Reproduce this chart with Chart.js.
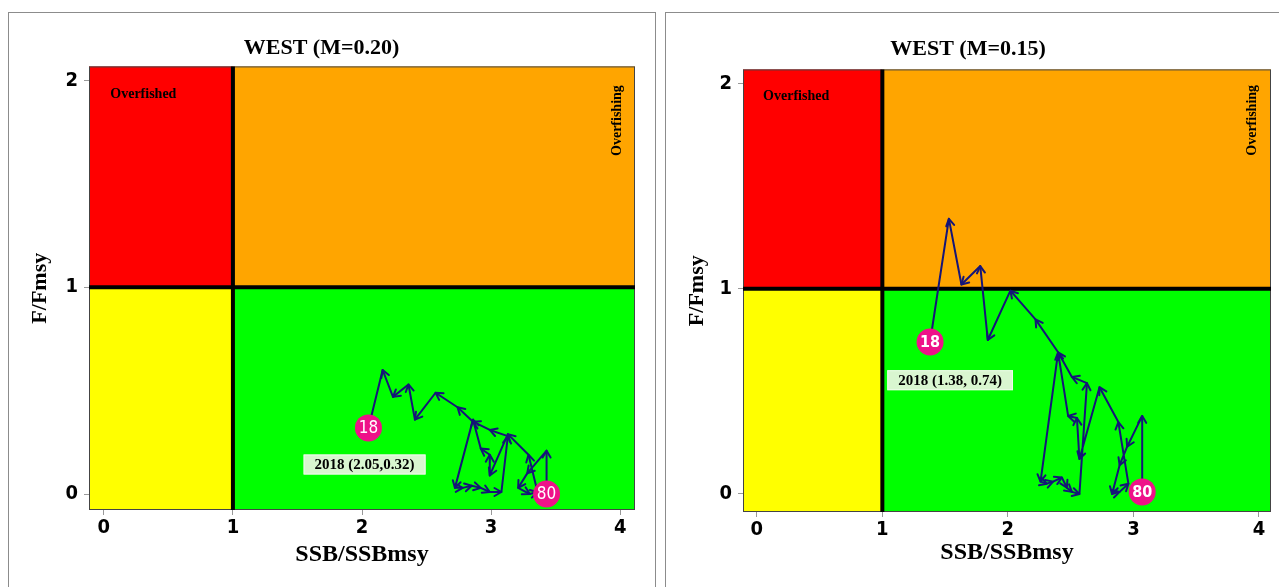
<!DOCTYPE html>
<html>
<head>
<meta charset="utf-8">
<script src="https://cdn.jsdelivr.net/npm/chart.js@4.4.0/dist/chart.umd.min.js"></script>
<style>
  body { margin: 0; background: #fff; width: 1279px; height: 587px; overflow: hidden; position: relative; }
  .frame { position: absolute; border: 1px solid #8c8c8c; }
  canvas { position: absolute; top: 0; }
</style>
</head>
<body>
<div class="frame" style="left:8px; top:12px; width:646px; height:620px;"></div>
<div class="frame" style="left:665px; top:12px; width:700px; height:620px;"></div>
<canvas id="west20" width="655" height="587" style="left:0"></canvas>
<canvas id="west15" width="640" height="587" style="left:655px"></canvas>
<script>
// ---- data ----
const xTicks = [0, 1, 2, 3, 4];
const yTicks = [0, 1, 2];
const xTickLabels = ["0", "1", "2", "3", "4"];
const yTickLabels = ["0", "1", "2"];

// WEST (M=0.20), 1980 -> 2018
const west20X = [3.43, 3.43, 3.28, 3.21, 3.30, 3.36, 3.29, 3.13, 2.99, 2.99, 2.92, 2.86, 2.72, 2.78,
                 2.85, 2.92, 2.99, 3.08, 3.13, 2.99, 2.86, 2.74, 2.57, 2.41, 2.36, 2.24, 2.16, 2.05];
const west20Y = [0.00, 0.21, 0.10, 0.03, 0.00, 0.01, 0.19, 0.29, 0.09, 0.19, 0.22, 0.36, 0.03, 0.03,
                 0.04, 0.03, 0.01, 0.01, 0.28, 0.31, 0.35, 0.42, 0.49, 0.36, 0.53, 0.47, 0.60, 0.32];

// WEST (M=0.15), 1980 -> 2018
const west15X = [3.07, 3.07, 2.95, 2.89, 2.83, 2.89, 2.96, 2.88, 2.73, 2.57, 2.55, 2.48, 2.40, 2.26, 2.31,
                 2.36, 2.43, 2.47, 2.51, 2.57, 2.63, 2.51, 2.40, 2.22, 2.02, 1.84, 1.78, 1.63, 1.53, 1.38];
const west15Y = [0.01, 0.38, 0.23, 0.14, 0.00, 0.01, 0.05, 0.35, 0.52, 0.17, 0.37, 0.38, 0.69, 0.06, 0.05,
                 0.06, 0.08, 0.03, 0.01, 0.00, 0.54, 0.57, 0.69, 0.85, 0.99, 0.75, 1.11, 1.02, 1.34, 0.74];

const startLabel = "80";
const endLabel = "18";
const west20Note = "2018 (2.05,0.32)";
const west15Note = "2018 (1.38, 0.74)";

// ---- styling ----
const SERIF = "'Liberation Serif', 'Times New Roman', serif";
const NARROW = "'Liberation Sans Narrow', 'DejaVu Sans Condensed', 'Arial Narrow', sans-serif";
const NAVY = "#151578";
const PINK = "#ee1289";
const RED = "#ff0000", ORANGE = "#ffa500", YELLOW = "#ffff00", GREEN = "#00ff00";

function kobePlugin(cfg) {
  return {
    id: "kobe",
    beforeDatasetsDraw(chart) {
      const { ctx, chartArea: a, scales: { x, y } } = chart;
      const xr = x.getPixelForValue(1), yr = y.getPixelForValue(1);
      ctx.save();
      ctx.fillStyle = RED;    ctx.fillRect(a.left, a.top, xr - a.left, yr - a.top);
      ctx.fillStyle = ORANGE; ctx.fillRect(xr, a.top, a.right - xr, yr - a.top);
      ctx.fillStyle = YELLOW; ctx.fillRect(a.left, yr, xr - a.left, a.bottom - yr);
      ctx.fillStyle = GREEN;  ctx.fillRect(xr, yr, a.right - xr, a.bottom - yr);

      ctx.strokeStyle = "#444";
      ctx.lineWidth = 1;
      ctx.strokeRect(a.left + 0.5, a.top + 0.5, a.right - a.left - 1, a.bottom - a.top - 1);

      // reference lines at 1
      ctx.strokeStyle = "#000";
      ctx.lineWidth = 4;
      ctx.beginPath();
      ctx.moveTo(xr, a.top); ctx.lineTo(xr, a.bottom);
      ctx.moveTo(a.left, yr); ctx.lineTo(a.right, yr);
      ctx.stroke();

      // quadrant texts
      ctx.fillStyle = "#000";
      ctx.font = "bold 14px " + SERIF;
      ctx.textAlign = "left";
      ctx.textBaseline = "middle";
      ctx.fillText("Overfished", x.getPixelForValue(cfg.fishedAt[0]), y.getPixelForValue(cfg.fishedAt[1]));
      ctx.save();
      ctx.translate(x.getPixelForValue(cfg.fishingAt[0]), y.getPixelForValue(cfg.fishingAt[1]));
      ctx.rotate(-Math.PI / 2);
      ctx.textAlign = "center";
      ctx.fillText("Overfishing", 0, 0);
      ctx.restore();
      ctx.restore();
    },
    afterDatasetDraw(chart, args) {
      if (args.index !== 1) return;
      const { ctx } = chart;
      const pts = args.meta.data;
      const L = 8, wing = Math.PI / 6;
      ctx.save();
      ctx.strokeStyle = NAVY;
      ctx.lineWidth = 2;
      ctx.lineCap = "round";
      ctx.lineJoin = "round";
      for (let i = 1; i < pts.length; i++) {
        const p = pts[i - 1], q = pts[i];
        const ang = Math.atan2(q.y - p.y, q.x - p.x);
        ctx.beginPath();
        ctx.moveTo(q.x - L * Math.cos(ang - wing), q.y - L * Math.sin(ang - wing));
        ctx.lineTo(q.x, q.y);
        ctx.lineTo(q.x - L * Math.cos(ang + wing), q.y - L * Math.sin(ang + wing));
        ctx.stroke();
      }
      ctx.restore();
    },
    afterDatasetsDraw(chart) {
      const { ctx, scales: { x, y } } = chart;
      const marks = chart.getDatasetMeta(0).data;
      ctx.save();
      ctx.fillStyle = "#fff";
      ctx.font = cfg.markFont;
      ctx.textAlign = "center";
      ctx.textBaseline = "middle";
      ctx.fillText(startLabel, marks[0].x, marks[0].y + 1);
      ctx.fillText(endLabel, marks[1].x, marks[1].y + 1);

      // note box
      ctx.font = "bold 15px " + SERIF;
      const cx = x.getPixelForValue(cfg.noteAt[0]), cy = y.getPixelForValue(cfg.noteAt[1]);
      const w = ctx.measureText(cfg.note).width + 22, h = 20;
      ctx.fillStyle = "#d9f6d0";
      ctx.fillRect(cx - w / 2, cy - h / 2, w, h);
      ctx.strokeStyle = "#eefbe9";
      ctx.lineWidth = 1;
      ctx.strokeRect(cx - w / 2 + 0.5, cy - h / 2 + 0.5, w - 1, h - 1);
      ctx.fillStyle = "#000";
      ctx.fillText(cfg.note, cx, cy + 1);
      ctx.restore();
    }
  };
}

function makeChart(id, cfg) {
  const points = cfg.xs.map((v, i) => ({ x: v, y: cfg.ys[i] }));
  const last = points.length - 1;
  return new Chart(document.getElementById(id), {
    type: "scatter",
    data: {
      datasets: [
        { label: "years", data: [points[0], points[last]], pointRadius: 13.5, pointHoverRadius: 13.5,
          backgroundColor: PINK, borderWidth: 0, order: 0 },
        { label: "trajectory", data: points, showLine: true, borderColor: NAVY, borderWidth: 2,
          borderJoinStyle: "round", pointRadius: 0, order: 1 }
      ]
    },
    options: {
      responsive: false,
      animation: false,
      devicePixelRatio: 1,
      events: [],
      layout: { padding: cfg.pad },
      plugins: {
        legend: { display: false },
        tooltip: { enabled: false },
        title: { display: true, text: cfg.title, color: "#000",
                 font: { family: SERIF, size: 22, weight: "bold" }, padding: cfg.titlePad }
      },
      scales: {
        x: {
          type: "linear", min: cfg.xMin, max: cfg.xMax,
          afterBuildTicks: s => { s.ticks = xTicks.map(v => ({ value: v })); },
          afterFit: s => { s.height = cfg.xAxisH; },
          ticks: { color: "#000", padding: 1, font: { family: NARROW, size: 20, weight: "bold" },
                   callback: v => xTickLabels[xTicks.indexOf(v)] },
          grid: { drawOnChartArea: false, tickLength: 5, color: "#999" },
          border: { display: false },
          title: { display: true, text: "SSB/SSBmsy", color: "#000",
                   font: { family: SERIF, size: 24, weight: "bold" }, padding: { top: 0, bottom: cfg.xTitleBottom } }
        },
        y: {
          type: "linear", min: cfg.yMin, max: cfg.yMax,
          afterBuildTicks: s => { s.ticks = yTicks.map(v => ({ value: v })); },
          afterFit: s => { s.width = cfg.yAxisW; },
          ticks: { color: "#000", padding: 6, font: { family: NARROW, size: 20, weight: "bold" },
                   callback: v => yTickLabels[yTicks.indexOf(v)] },
          grid: { drawOnChartArea: false, tickLength: 5, color: "#999" },
          border: { display: false },
          title: { display: true, text: "F/Fmsy", color: "#000",
                   font: { family: SERIF, size: 22, weight: "bold" }, padding: { top: 19, bottom: 0 } }
        }
      }
    },
    plugins: [kobePlugin(cfg)]
  });
}

makeChart("west20", {
  title: "WEST (M=0.20)",
  xs: west20X, ys: west20Y,
  xMin: -0.115, xMax: 4.115, yMin: -0.077, yMax: 2.068,
  pad: { left: 8, right: 20, top: 20, bottom: 0 },
  titlePad: { top: 15, bottom: 5 },
  yAxisW: 81, xAxisH: 77, xTitleBottom: 18,
  fishedAt: [0.05, 1.932], fishingAt: [3.977, 1.806],
  note: west20Note, noteAt: [2.02, 0.143],
  markFont: "17px " + NARROW
});

makeChart("west15", {
  title: "WEST (M=0.15)",
  xs: west15X, ys: west15Y,
  xMin: -0.11, xMax: 4.096, yMin: -0.088, yMax: 2.068,
  pad: { left: 10, right: 24, top: 21, bottom: 0 },
  titlePad: { top: 15, bottom: 7 },
  yAxisW: 78, xAxisH: 75, xTitleBottom: 20,
  fishedAt: [0.05, 1.937], fishingAt: [3.944, 1.82],
  note: west15Note, noteAt: [1.54, 0.554],
  markFont: "bold 16px " + NARROW
});
</script>
</body>
</html>
